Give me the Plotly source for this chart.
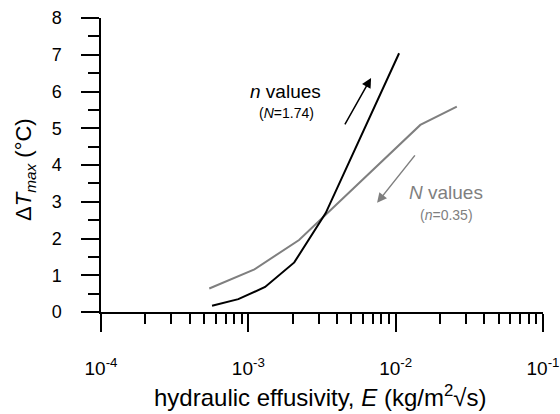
import numpy as np
import plotly.graph_objects as go

# n values series (N=1.74)
n_E = [5.67e-4, 8.55e-4, 1.30e-3, 2.05e-3, 3.35e-3, 5.06e-3, 1.055e-2]
n_T = [0.17, 0.35, 0.68, 1.35, 2.69, 4.25, 7.04]
# N values series (n=0.35)
N_E = [5.43e-4, 1.10e-3, 2.21e-3, 4.4e-3, 1.47e-2, 2.60e-2]
N_T = [0.64, 1.16, 1.96, 3.10, 5.09, 5.59]

x_tickvals = [1e-4, 1e-3, 1e-2, 1e-1]
x_ticktext = ["10<sup>-4</sup>", "10<sup>-3</sup>", "10<sup>-2</sup>", "10<sup>-1</sup>"]
x_minor = [m * 10.0 ** e for e in (-4, -3, -2) for m in range(2, 10)]
y_tickvals = list(range(0, 9))

GRAY = "#7f7f7f"
FONT = "Liberation Sans, Arial, sans-serif"

fig = go.Figure()
fig.add_trace(go.Scatter(x=N_E, y=N_T, mode="lines", line=dict(color=GRAY, width=2), showlegend=False))
fig.add_trace(go.Scatter(x=n_E, y=n_T, mode="lines", line=dict(color="black", width=2), showlegend=False))

fig.update_layout(
    width=560, height=414,
    margin=dict(l=101, r=17, t=18, b=102),
    paper_bgcolor="white", plot_bgcolor="white",
    font=dict(family=FONT, color="black"),
    xaxis=dict(type="log", range=[-4, -1], showgrid=False, zeroline=False,
               showline=True, linecolor="black", linewidth=1.5,
               ticks="outside", ticklen=18, tickwidth=1.5, tickcolor="black",
               tickvals=x_tickvals, ticktext=x_ticktext,
               tickfont=dict(size=19), ticklabelstandoff=20,
               minor=dict(tickvals=x_minor, ticks="outside", ticklen=10, tickwidth=1.5,
                          tickcolor="black", showgrid=False),
               automargin=False),
    yaxis=dict(range=[0, 8], showgrid=False, zeroline=False,
               showline=True, linecolor="black", linewidth=1.5,
               ticks="outside", ticklen=18, tickwidth=1.5, tickcolor="black",
               tickvals=y_tickvals, tickfont=dict(size=18), ticklabelstandoff=16,
               minor=dict(dtick=0.5, ticks="outside", ticklen=11, tickwidth=1.5,
                          tickcolor="black", showgrid=False),
               automargin=False),
)

ann = []
ann.append(dict(xref="paper", yref="paper", x=(320 - 101) / 442, y=(312 - 396) / 294,
                text="hydraulic effusivity, <i>E</i> (kg/m<sup>2</sup>√s)", showarrow=False,
                font=dict(size=24), xanchor="center", yanchor="middle"))
ann.append(dict(xref="paper", yref="paper", x=(25 - 101) / 442, y=(312 - 170) / 294,
                text="Δ<i>T</i><sub><i>max</i></sub> (°C)", showarrow=False, textangle=-90,
                font=dict(size=22), xanchor="center", yanchor="middle"))
ann.append(dict(x=-2.751, y=5.99, text="<i>n</i> values", showarrow=False,
                font=dict(size=19, color="black")))
ann.append(dict(x=-2.744, y=5.42, text="(<i>N</i>=1.74)", showarrow=False,
                font=dict(size=14, color="black")))
ann.append(dict(x=-1.658, y=3.24, text="<i>N</i> values", showarrow=False,
                font=dict(size=19, color=GRAY)))
ann.append(dict(x=-1.658, y=2.64, text="(<i>n</i>=0.35)", showarrow=False,
                font=dict(size=14, color=GRAY)))
ann.append(dict(x=np.log10(6.81e-3), y=6.37, ax=-27, ay=48, text="", showarrow=True,
                arrowhead=2, arrowsize=1.3, arrowwidth=1.5, arrowcolor="black"))
ann.append(dict(x=np.log10(7.48e-3), y=2.97, ax=39, ay=-49, text="", showarrow=True,
                arrowhead=2, arrowsize=1.3, arrowwidth=1.5, arrowcolor=GRAY))
fig.update_layout(annotations=ann)

fig.write_html("out.html")
